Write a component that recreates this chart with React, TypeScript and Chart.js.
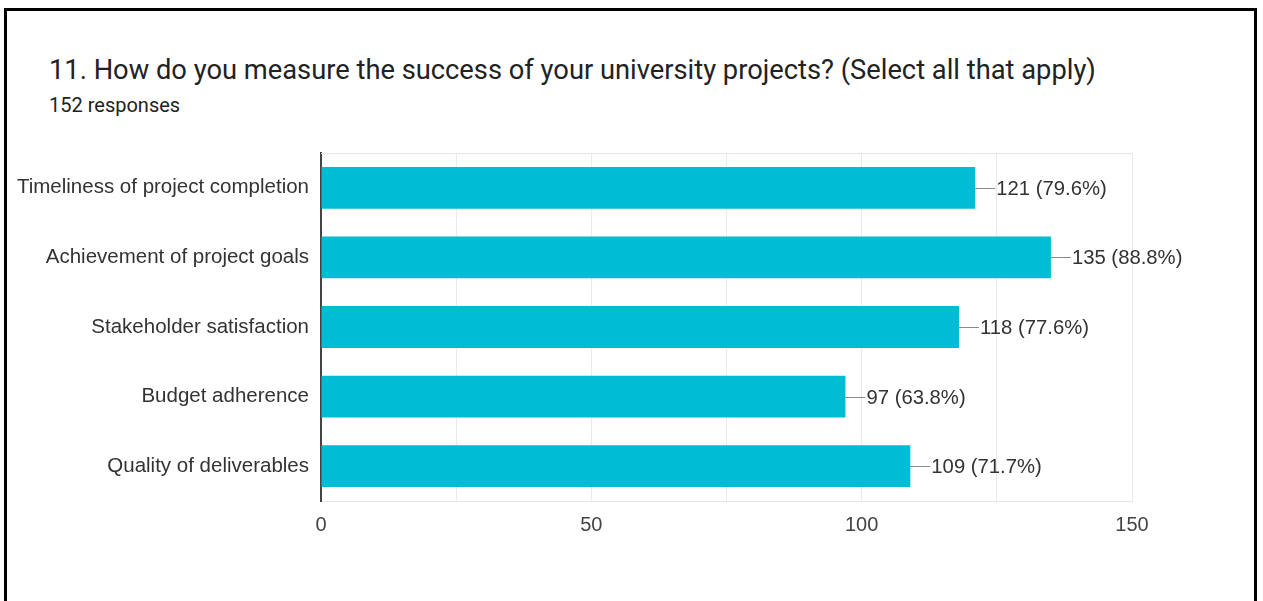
import React, { useEffect, useRef } from "react";
import { Chart, registerables } from "chart.js";

Chart.register(...registerables);

const titleText = "11. How do you measure the success of your university projects? (Select all that apply)";
const subtitleText = "152 responses";
const categories = [
  "Timeliness of project completion",
  "Achievement of project goals",
  "Stakeholder satisfaction",
  "Budget adherence",
  "Quality of deliverables",
];
const counts = [121, 135, 118, 97, 109];
const percents = ["79.6%", "88.8%", "77.6%", "63.8%", "71.7%"];
const xMin = 0;
const xMax = 150;
const xStep = 25;
const xLabelStep = 50;

const valueLabelPlugin = {
  id: "valueLabels",
  beforeDatasetsDraw(chart: any) {
    const { ctx, chartArea } = chart;
    ctx.save();
    ctx.strokeStyle = "#e6e6e6";
    ctx.lineWidth = 1;
    ctx.beginPath();
    ctx.moveTo(chartArea.left, chartArea.top + 0.5);
    ctx.lineTo(chartArea.right, chartArea.top + 0.5);
    ctx.stroke();
    ctx.restore();
  },
  afterDatasetsDraw(chart: any) {
    const { ctx } = chart;
    const meta = chart.getDatasetMeta(0);
    ctx.save();
    meta.data.forEach((bar: any, i: number) => {
      const x = bar.x;
      const y = Math.round(bar.y) + 0.5;
      ctx.strokeStyle = "#8a8a8a";
      ctx.lineWidth = 1;
      ctx.beginPath();
      ctx.moveTo(x, y);
      ctx.lineTo(x + 20, y);
      ctx.stroke();
      ctx.fillStyle = "#333333";
      ctx.font = '20.3px "Liberation Sans", Arial, sans-serif';
      ctx.textAlign = "left";
      ctx.textBaseline = "middle";
      ctx.fillText(`${counts[i]} (${percents[i]})`, x + 21, y + 0.5);
    });
    ctx.restore();
  },
};

export default function App() {
  const canvasRef = useRef<HTMLCanvasElement | null>(null);

  useEffect(() => {
    const canvas = canvasRef.current;
    if (!canvas) return;
    const chart = new Chart(canvas, {
      type: "bar",
      data: {
        labels: categories,
        datasets: [
          {
            data: counts,
            backgroundColor: "#00bcd4",
            borderWidth: 0,
            categoryPercentage: 1,
            barPercentage: 0.6,
          },
        ],
      },
      options: {
        indexAxis: "y",
        animation: false,
        responsive: false,
        maintainAspectRatio: false,
        devicePixelRatio: 1,
        layout: { padding: { top: 153, right: 131, left: 0, bottom: 0 } },
        plugins: {
          legend: { display: false },
          tooltip: { enabled: false },
          title: { display: false },
        },
        scales: {
          x: {
            min: xMin,
            max: xMax,
            afterFit: (scale: any) => {
              scale.height = 100;
            },
            ticks: {
              stepSize: xStep,
              autoSkip: false,
              maxRotation: 0,
              padding: 12,
              color: "#444444",
              font: { family: '"Liberation Sans", Arial, sans-serif', size: 20 },
              callback: (v: any) => (Number(v) % xLabelStep === 0 ? String(v) : ""),
            },
            grid: { color: "#ebebeb", lineWidth: 1, drawTicks: false },
            border: { display: true, color: "#e6e6e6", width: 1 },
          },
          y: {
            afterFit: (scale: any) => {
              scale.width = 321;
            },
            ticks: {
              padding: 12,
              color: "#333333",
              font: { family: '"Liberation Sans", Arial, sans-serif', size: 20.5 },
            },
            grid: { display: false, drawTicks: false },
            border: { display: true, color: "#444444", width: 2 },
          },
        },
      },
      plugins: [valueLabelPlugin],
    });
    return () => chart.destroy();
  }, []);

  return (
    <div
      style={{
        position: "fixed",
        left: 0,
        top: 0,
        width: 1263,
        height: 601,
        background: "#ffffff",
        overflow: "hidden",
      }}
    >
      <div
        style={{
          position: "absolute",
          left: 4,
          top: 8,
          width: 1253,
          height: 620,
          border: "3px solid #000000",
          boxSizing: "border-box",
        }}
      />
      <div
        style={{
          position: "absolute",
          left: 49,
          top: 54,
          fontFamily: "Roboto, sans-serif",
          fontSize: 27.3,
          lineHeight: "32px",
          color: "#222222",
          whiteSpace: "nowrap",
        }}
      >
        {titleText}
      </div>
      <div
        style={{
          position: "absolute",
          left: 49,
          top: 93,
          fontFamily: "Roboto, sans-serif",
          fontSize: 20,
          lineHeight: "24px",
          color: "#222222",
          whiteSpace: "nowrap",
        }}
      >
        {subtitleText}
      </div>
      <canvas
        ref={canvasRef}
        width={1263}
        height={601}
        style={{ position: "absolute", left: 0, top: 0, width: 1263, height: 601 }}
      />
    </div>
  );
}
